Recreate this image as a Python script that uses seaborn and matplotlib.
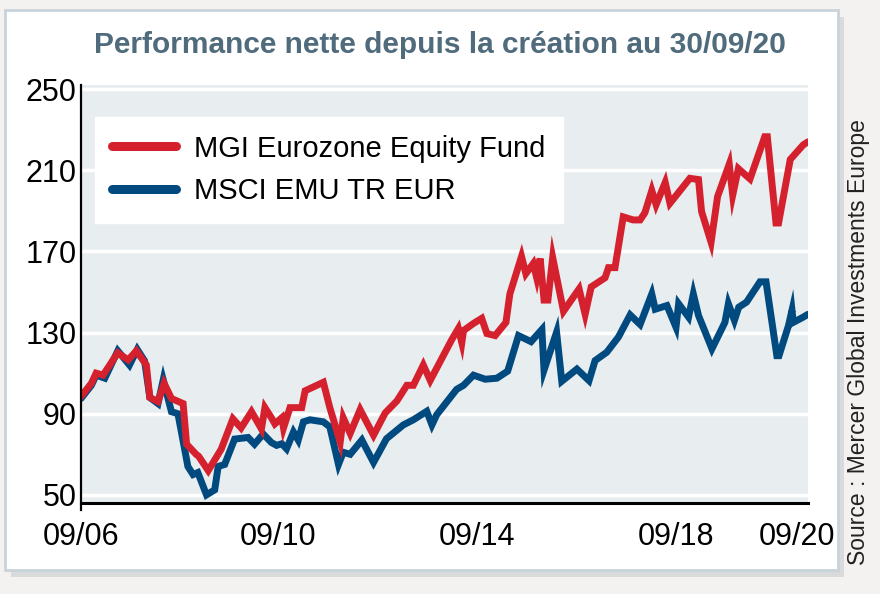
import pandas as pd
import matplotlib.pyplot as plt
import seaborn as sns
from matplotlib.patches import Rectangle
from matplotlib.lines import Line2D

# ------------------------------
# Data (index base ~100 in 09/2006)
# x = months since 09/2006
# ------------------------------
mois_fonds = [0, 2.4, 3.5, 5.1, 8.5, 10.9, 12.8, 15.1, 15.9, 17.8, 19.2, 20.9, 23.6,
              24.4, 26.6, 27.2, 29.4, 32.4, 35.1, 37, 39.4, 41.7, 42.5, 44, 44.8,
              46.4, 46.8, 48.3, 51, 51.8, 56, 57.5, 59.9, 60.6, 62.2, 64.5, 67.6,
              70.3, 73, 75.3, 76.8, 79.1, 80.7, 83, 85.7, 87.2, 88, 88.4, 90.7,
              92.6, 93.8, 95.7, 98.2, 99.1, 101.8, 102.8, 104.5, 105.3, 106.1, 107,
              107.9, 109, 111.5, 115.1, 116.5, 117.9, 121.1, 121.9, 123.4, 125.3,
              127.6, 129.2, 130.3, 131.9, 132.9, 135, 136.1, 140.7, 142.7, 143.4,
              145.6, 147.1, 149.8, 150.6, 151.9, 154.6, 158, 158.6, 160.6, 161.2,
              163.9, 166.9, 168]
fonds = [98.5, 105, 110, 109, 120, 116.5, 121, 114, 98, 96, 105, 97.5, 95,
         75, 70, 69, 62, 72.5, 87.5, 83, 91, 82.5, 93, 88, 85,
         88, 83, 93, 93, 101.3, 105.5, 93, 76, 88, 80.3, 92, 79.4,
         90.4, 96.3, 104, 104, 114, 106.4, 115.7, 126.6, 132, 125, 131, 134.5,
         137, 129.5, 128.5, 135, 149, 167.5, 159, 164, 157, 166.5, 146,
         146, 167, 140.5, 151.5, 139, 152.5, 157, 162, 162, 187,
         185.5, 185.5, 189, 200, 193, 204, 193.7, 206, 205.4, 189.7,
         174.5, 197, 213, 197.7, 210.8, 205.7, 226.5, 226.5, 184, 184,
         215.3, 222.5, 224]

mois_indice = [0, 2.4, 3.5, 5.5, 8.5, 11.2, 13, 14.7, 15.9, 17.8, 19, 20.9, 22.4,
               24.7, 25.9, 27, 29, 30.9, 31.7, 33.2, 35.5, 38.6, 40.1, 42.1, 44,
               45.2, 46.4, 47.5, 49.1, 50.2, 51.4, 52.9, 56, 57.5, 59.5, 60.6,
               62.2, 64.9, 67.6, 70.6, 74.5, 76.8, 79.9, 81.1, 82.2, 86.8, 88.4,
               90.7, 93.4, 96.1, 98.6, 101.1, 104, 106.5, 107, 109.9, 111.1,
               114.6, 117.4, 118.8, 121.5, 124.2, 126.9, 129.2, 131.9, 132.7,
               135.4, 137.5, 138.1, 140.4, 141.5, 142.7, 145.8, 148.8, 149.6,
               151, 152, 153.8, 156.9, 158.3, 160.8, 161.3, 163.5, 164.3, 164.6,
               166.9, 168]
indice = [97.5, 104, 109, 107.5, 121, 114, 121.7, 116, 98, 95, 106.7, 91, 90,
          64, 60, 61, 50, 52.5, 64, 65, 77.5, 78.3, 75, 80, 75.8,
          74.4, 75.2, 72.7, 81, 77, 86, 87, 86, 83.5, 65, 71,
          70, 77, 66, 77.7, 84.5, 87, 91.2, 84.5, 89.5, 102, 104,
          109, 107, 107.5, 111, 128.5, 125.5, 131.5, 111.5, 130.2, 106,
          112, 106.3, 116.2, 120.3, 127.8, 138.7, 134, 149, 141.5,
          143.3, 132.6, 144.2, 137.6, 149, 138.4, 122, 135, 144.2,
          136, 142.5, 145, 155, 155, 118.6, 118.6, 133.5, 141, 135,
          137.6, 139]

serie_fonds = "MGI Eurozone Equity Fund"
serie_indice = "MSCI EMU TR EUR"
x_ticks = [0, 45.5, 91.5, 137.5, 165.5]
x_labels = ["09/06", "09/10", "09/14", "09/18", "09/20"]
y_ticks = [50, 90, 130, 170, 210, 250]

ROUGE = "#D5212E"
BLEU = "#014A80"

# ------------------------------
# Style
# ------------------------------
sns.set_theme(style="darkgrid", rc={
    "axes.facecolor": "#E8EDF0",
    "grid.color": "white",
    "grid.linewidth": 2.5,
})
plt.rcParams["font.family"] = ["Liberation Sans Narrow", "Liberation Sans", "DejaVu Sans"]

fig = plt.figure(figsize=(8.8, 5.94), dpi=100, facecolor="#F3F2F0")

# white panel with shadow (drawn behind the axes)
fig.patches.append(Rectangle((11 / 880, 1 - 577 / 594), 833 / 880, 560 / 594,
                             transform=fig.transFigure, facecolor="#D9DADB",
                             edgecolor="none", zorder=-2))
fig.patches.append(Rectangle((5 / 880, 1 - 570 / 594), 833 / 880, 560 / 594,
                             transform=fig.transFigure, facecolor="white",
                             edgecolor="#C9D3DA", linewidth=2, zorder=-1))

ax = fig.add_axes([81 / 880, 1 - 503 / 594, 727 / 880, 418 / 594])
ax.set_zorder(2)

df_indice = pd.DataFrame({"mois": mois_indice, "valeur": indice})
df_fonds = pd.DataFrame({"mois": mois_fonds, "valeur": fonds})
sns.lineplot(data=df_indice, x="mois", y="valeur", ax=ax, color=BLEU,
             linewidth=5, solid_joinstyle="miter")
sns.lineplot(data=df_fonds, x="mois", y="valeur", ax=ax, color=ROUGE,
             linewidth=5, solid_joinstyle="miter")

ax.set_xlim(0, 168)
ax.set_ylim(46, 252)
ax.set_xticks(x_ticks)
ax.set_xticklabels(x_labels)
ax.set_yticks(y_ticks)
ax.set_xlabel("")
ax.set_ylabel("")
ax.xaxis.grid(False)
ax.tick_params(axis="both", length=0, labelsize=22, colors="black")
ax.tick_params(axis="x", pad=14)
ax.tick_params(axis="y", pad=3)

for s in ["top", "right"]:
    ax.spines[s].set_visible(False)
ax.spines["left"].set_visible(True)
ax.spines["left"].set_color("black")
ax.spines["left"].set_linewidth(1.6)
ax.spines["left"].set_bounds(42.5, 252)
ax.spines["bottom"].set_visible(True)
ax.spines["bottom"].set_color("black")
ax.spines["bottom"].set_linewidth(2.2)

handles = [Line2D([], [], color=ROUGE, linewidth=6.5),
           Line2D([], [], color=BLEU, linewidth=6.5)]
leg = ax.legend(handles, [serie_fonds, serie_indice], loc="upper left",
                bbox_to_anchor=(0.019, 0.923), frameon=True, fancybox=False,
                framealpha=1, facecolor="white", edgecolor="white",
                fontsize=21, handlelength=2.2, handletextpad=0.6,
                labelspacing=0.5, borderpad=0.6, borderaxespad=0)
for t in leg.get_texts():
    t.set_color("black")

fig.text(440 / 880, 1 - 45 / 594, "Performance nette depuis la création au 30/09/20",
         ha="center", va="center", fontsize=21.5, fontweight="bold", color="#4F6B7C")
fig.text(858 / 880, 1 - 342 / 594, "Source : Mercer Global Investments Europe",
         rotation=90, ha="center", va="center", fontsize=16.5, color="#222222")

fig.savefig("out.png", dpi=100, facecolor=fig.get_facecolor())
